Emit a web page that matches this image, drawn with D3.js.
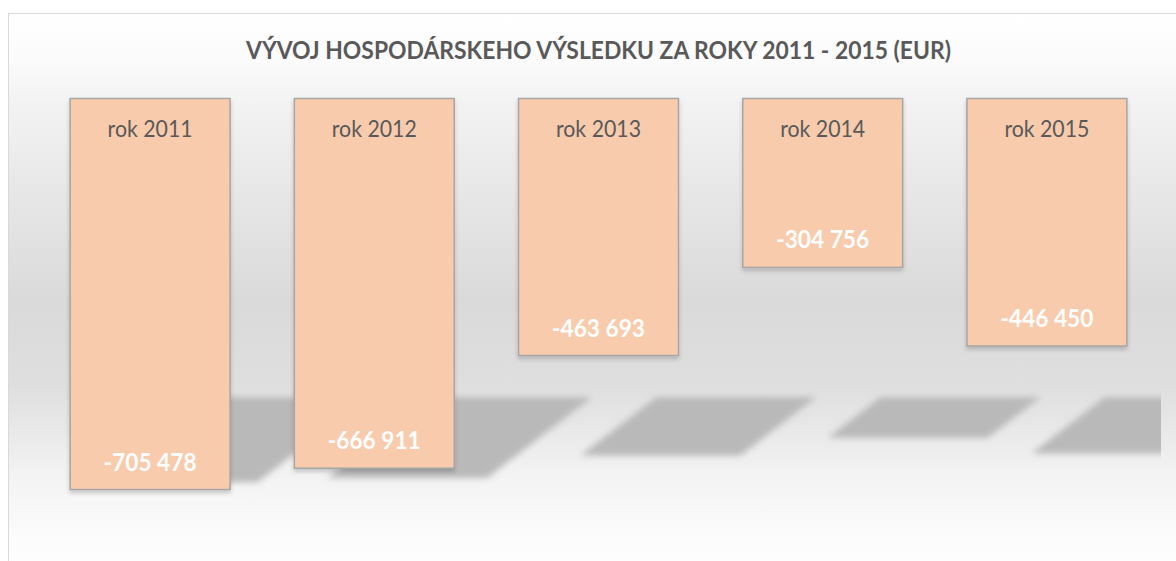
<!DOCTYPE html>
<html>
<head>
<meta charset="utf-8">
<script src="https://cdn.jsdelivr.net/npm/d3@7"></script>
<style>
  html, body { margin: 0; padding: 0; background: #fff; }
  svg { display: block; }
</style>
</head>
<body>
<div id="chart"></div>
<script>
// données
const title = "VÝVOJ HOSPODÁRSKEHO VÝSLEDKU ZA ROKY 2011 - 2015 (EUR)";
const categories = ["rok 2011", "rok 2012", "rok 2013", "rok 2014", "rok 2015"];
const values = [-705478, -666911, -463693, -304756, -446450];
const yDomain = [-800000, 0];

const width = 1176, height = 561;
const fmt = v => "-" + d3.format(",")(Math.abs(v)).replace(/,/g, " ");

const svg = d3.select("#chart").append("svg")
    .attr("width", width)
    .attr("height", height);

const defs = svg.append("defs");

// fond dégradé du graphique
const frameTop = 13, frameH = 560;
const grad = defs.append("linearGradient")
    .attr("id", "bg").attr("x1", 0).attr("y1", 0).attr("x2", 0).attr("y2", 1);
[[13, "#ffffff"], [60, "#fbfbfb"], [100, "#f3f3f3"], [200, "#e6e6e6"], [300, "#dadada"],
 [380, "#dedede"], [420, "#e6e6e6"], [470, "#f2f2f2"], [540, "#fcfcfc"], [573, "#ffffff"]]
    .forEach(([y, c]) => grad.append("stop")
        .attr("offset", (y - frameTop) / frameH)
        .attr("stop-color", c));

defs.append("filter").attr("id", "blur")
    .attr("x", "-20%").attr("y", "-40%").attr("width", "140%").attr("height", "180%")
    .append("feGaussianBlur").attr("stdDeviation", 3);

defs.append("filter").attr("id", "drop")
    .attr("x", "-10%").attr("y", "-10%").attr("width", "120%").attr("height", "120%")
    .append("feDropShadow")
    .attr("dx", 0).attr("dy", 3).attr("stdDeviation", 2)
    .attr("flood-color", "#000").attr("flood-opacity", 0.18);

defs.append("clipPath").attr("id", "plotClip")
    .append("rect").attr("x", 9).attr("y", 14).attr("width", 1152).attr("height", 560);

svg.append("rect")
    .attr("x", 8.5).attr("y", frameTop + 0.5)
    .attr("width", 1200).attr("height", frameH)
    .attr("fill", "url(#bg)")
    .attr("stroke", "#d9d9d9");

// échelles
const x = d3.scaleBand()
    .domain(categories)
    .range([38, 1159])
    .paddingInner(0.2865)
    .paddingOuter(0.14325);

const y = d3.scaleLinear()
    .domain(yDomain)
    .range([542, 98.5]);

const data = categories.map((c, i) => ({ cat: c, value: values[i] }));

// ombres "au sol"
const floorY = 397, skewTop = 138, slope = 1.3;
const shadowG = svg.append("g").attr("clip-path", "url(#plotClip)");
shadowG.selectAll("path")
    .data(data)
    .join("path")
    .attr("fill", "#b9b9b9")
    .attr("filter", "url(#blur)")
    .attr("d", d => {
        const len = y(d.value) - y(0);
        const h = 0.2 * len + 7;
        const x0 = x(d.cat), bw = x.bandwidth();
        const offB = skewTop - slope * h;
        return `M${x0 + skewTop},${floorY} L${x0 + skewTop + bw},${floorY} ` +
               `L${x0 + offB + bw},${floorY + h} L${x0 + offB},${floorY + h} Z`;
    });

// barres
svg.selectAll("rect.bar")
    .data(data)
    .join("rect")
    .attr("class", "bar")
    .attr("x", d => x(d.cat))
    .attr("y", y(0))
    .attr("width", x.bandwidth())
    .attr("height", d => y(d.value) - y(0))
    .attr("fill", "#f8cbad")
    .attr("stroke", "#a6a6a6")
    .attr("stroke-width", 1.5)
    .attr("filter", "url(#drop)");

// catégories
svg.selectAll("text.cat")
    .data(data)
    .join("text")
    .attr("class", "cat")
    .attr("x", d => x(d.cat) + x.bandwidth() / 2)
    .attr("y", y(0) + 38.5)
    .attr("text-anchor", "middle")
    .attr("fill", "#595959")
    .attr("textLength", 85)
    .attr("lengthAdjust", "spacingAndGlyphs")
    .style("font-family", "Lato, 'Open Sans', sans-serif")
    .style("font-size", "22.5px")
    .text(d => d.cat);

// valeurs
svg.selectAll("text.val")
    .data(data)
    .join("text")
    .attr("class", "val")
    .attr("x", d => x(d.cat) + x.bandwidth() / 2)
    .attr("y", d => y(d.value) - 19)
    .attr("text-anchor", "middle")
    .attr("fill", "#ffffff")
    .attr("textLength", 93)
    .attr("lengthAdjust", "spacingAndGlyphs")
    .style("font-family", "Lato, 'Open Sans', sans-serif")
    .style("font-weight", "bold")
    .style("font-size", "24.5px")
    .text(d => fmt(d.value));

// titre
svg.append("text")
    .attr("x", 598.5)
    .attr("y", 59)
    .attr("text-anchor", "middle")
    .attr("fill", "#595959")
    .attr("textLength", 705)
    .attr("lengthAdjust", "spacingAndGlyphs")
    .style("font-family", "Lato, 'Open Sans', sans-serif")
    .style("font-weight", "bold")
    .style("font-size", "25px")
    .text(title);
</script>
</body>
</html>
